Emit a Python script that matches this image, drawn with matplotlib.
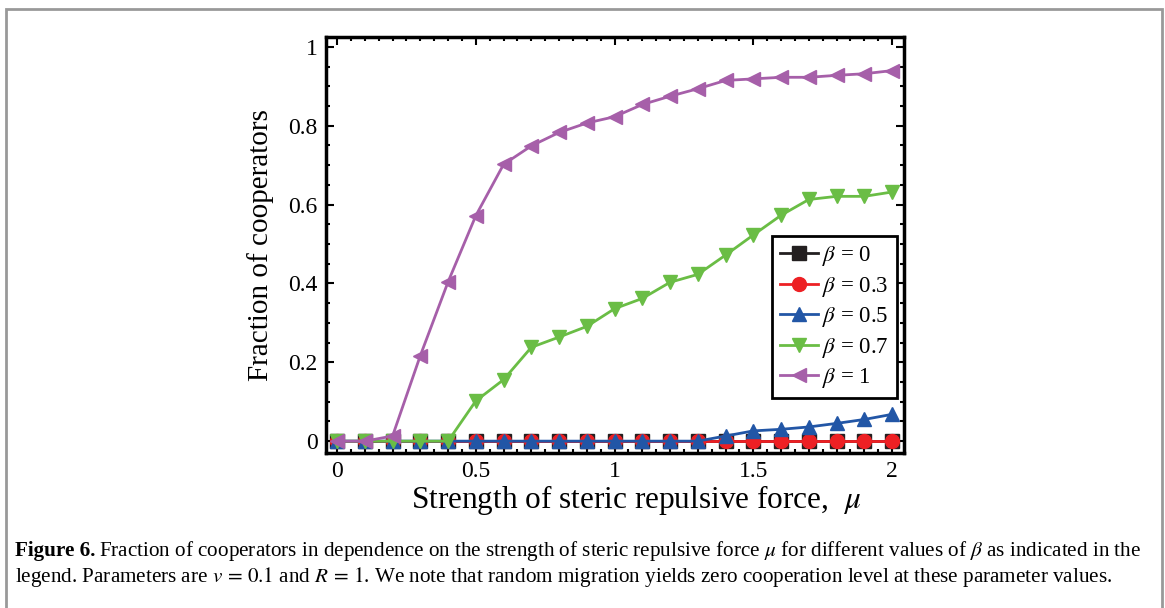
import matplotlib
matplotlib.use("Agg")
import matplotlib.pyplot as plt
from matplotlib.patches import Rectangle
from matplotlib.ticker import MultipleLocator

plt.rcParams['font.family'] = ['Liberation Serif', 'DejaVu Serif']
plt.rcParams['mathtext.fontset'] = 'stix'

mu = [0.0, 0.1, 0.2, 0.3, 0.4, 0.5, 0.6, 0.7, 0.8, 0.9, 1.0,
      1.1, 1.2, 1.3, 1.4, 1.5, 1.6, 1.7, 1.8, 1.9, 2.0]
beta0 = [0.0] * 21
beta03 = [0.0] * 21
beta05 = [0, 0, 0, 0, 0, 0, 0, 0, 0, 0, 0, 0, 0, 0,
          0.013, 0.026, 0.030, 0.036, 0.045, 0.055, 0.068]
beta07 = [0, 0, 0, 0, 0, 0.102, 0.156, 0.238, 0.264, 0.291, 0.336,
          0.362, 0.403, 0.423, 0.472, 0.523, 0.573, 0.613, 0.621, 0.621, 0.632]
beta1 = [0, 0, 0.013, 0.217, 0.404, 0.572, 0.702, 0.749, 0.783, 0.807, 0.823,
         0.854, 0.875, 0.894, 0.915, 0.919, 0.923, 0.923, 0.928, 0.932, 0.940]
labels = [r'$\beta$ = 0', r'$\beta$ = 0.3', r'$\beta$ = 0.5', r'$\beta$ = 0.7', r'$\beta$ = 1']
xticks = [0, 0.5, 1, 1.5, 2]
xticklabels = ['0', '0.5', '1', '1.5', '2']
yticks = [0, 0.2, 0.4, 0.6, 0.8, 1]
yticklabels = ['0', '0.2', '0.4', '0.6', '0.8', '1']

colors = ['#231f20', '#ed2024', '#2256a6', '#6abd45', '#a65fa9']
markers = ['s', 'o', '^', 'v', '<']

fig = plt.figure(figsize=(11.65, 6.08), dpi=100)
ax = fig.add_axes([0.2798, 0.255, 0.4962, 0.684])

for y, c, m, lab in zip([beta0, beta03, beta05, beta07, beta1], colors, markers, labels):
    ax.plot(mu, y, color=c, marker=m, markersize=10, lw=2, label=lab, clip_on=False)

ax.set_xlim(-0.04, 2.043)
ax.set_ylim(-0.03, 1.025)
ax.xaxis.set_minor_locator(MultipleLocator(0.05))
ax.yaxis.set_minor_locator(MultipleLocator(0.05))
ax.set_xticks(xticks)
ax.set_xticklabels(xticklabels)
ax.set_yticks(yticks)
ax.set_yticklabels(yticklabels)
ax.tick_params(which='both', direction='in', top=True, right=True, width=1.5)
ax.tick_params(which='major', length=6, labelsize=17, pad=6)
ax.tick_params(which='minor', length=3)
for s in ax.spines.values():
    s.set_linewidth(2.5)

ax.set_xlabel(r'Strength of steric repulsive force,  $\mu$', fontsize=22.5)
ax.xaxis.set_label_coords(0.536, -0.072)
ax.set_ylabel('Fraction of cooperators', fontsize=21, labelpad=10)

leg = ax.legend(loc='lower right', bbox_to_anchor=(0.988, 0.132), fontsize=16.5,
                frameon=True, fancybox=False, edgecolor='black', framealpha=1,
                borderaxespad=0, handlelength=1.65, labelspacing=0.28, handletextpad=0.2,
                borderpad=0.35)
leg.get_frame().set_linewidth(2)

# outer frame
fig.patches.append(Rectangle((6 / 1165, -0.02), 1156 / 1165, 1 - 9 / 608 + 0.02,
                             transform=fig.transFigure, fill=False,
                             edgecolor='#999999', lw=2))

cap_fs = 15.2
t1 = fig.text(15 / 1165, 1 - 556 / 608, 'Figure 6.', fontsize=cap_fs,
              fontweight='bold', va='baseline')
fig.canvas.draw()
bb = t1.get_window_extent()
x_after = (bb.x1 + 4) / fig.bbox.width
fig.text(x_after, 1 - 556 / 608,
         r'Fraction of cooperators in dependence on the strength of steric repulsive force '
         r'$\mu$ for different values of $\beta$ as indicated in the',
         fontsize=cap_fs, va='baseline')
fig.text(15 / 1165, 1 - 582 / 608,
         r'legend. Parameters are $v\,=\,0.1$ and $R\,=\,1$. We note that random migration '
         r'yields zero cooperation level at these parameter values.',
         fontsize=cap_fs, va='baseline')

fig.savefig('out.png', dpi=100)
